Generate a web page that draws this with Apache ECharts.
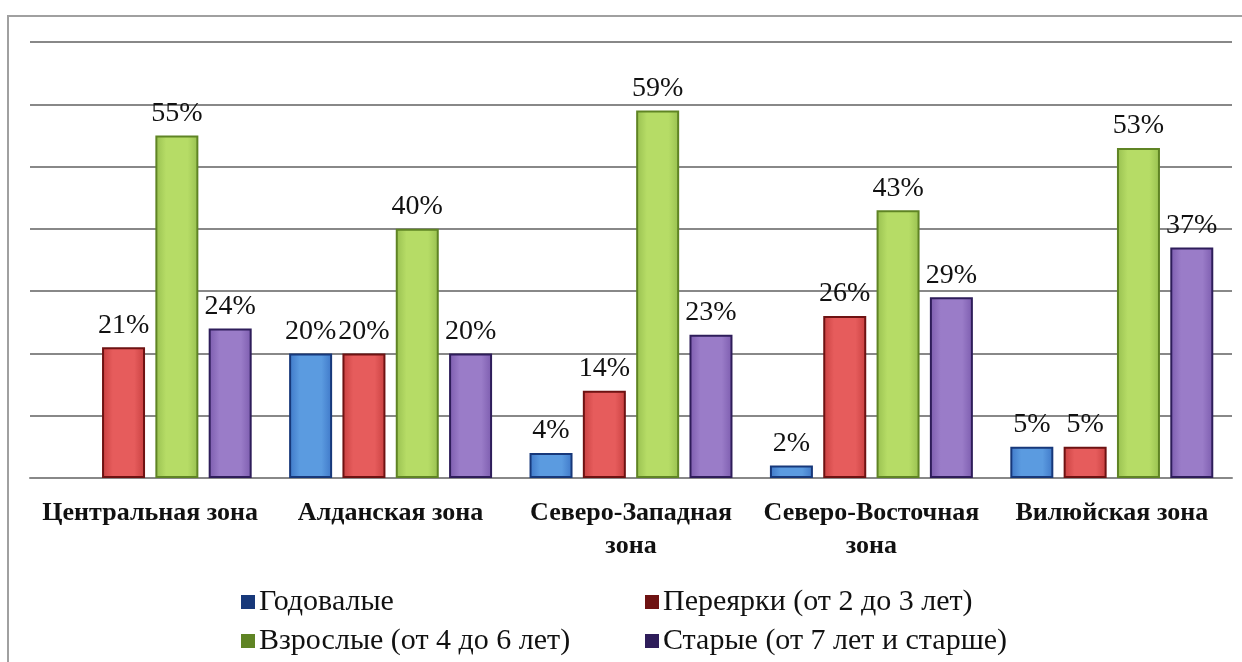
<!DOCTYPE html>
<html>
<head>
<meta charset="utf-8">
<script src="https://cdn.jsdelivr.net/npm/echarts@6/dist/echarts.min.js"></script>
<style>
html, body { margin: 0; padding: 0; background: #fff; }
#chart { width: 1242px; height: 662px; }
</style>
</head>
<body>
<div id="chart"></div>
<script>
// данные
var zones = ['Центральная зона', 'Алданская зона', 'Северо-Западная\nзона', 'Северо-Восточная\nзона', 'Вилюйская зона'];
var seriesNames = ['Годовалые', 'Переярки (от 2 до 3 лет)', 'Взрослые (от 4 до 6 лет)', 'Старые (от 7 лет и старше)'];
var yearlings = [null, 20, 4, 2, 5];
var twoYear = [21, 20, 14, 26, 5];
var adults = [55, 40, 59, 43, 53];
var old = [24, 20, 23, 29, 37];

var values = [yearlings, twoYear, adults, old];
// цвета: край, середина, обводка
var colors = [
    ['#3f78c8', '#5b9be0', '#17387a'],
    ['#c84040', '#e65c5c', '#6e1212'],
    ['#98c050', '#b6dc66', '#5f8424'],
    ['#7c5cae', '#9a7cc8', '#2e1d5a']
];
var legendPos = [[236, 582], [640, 582], [236, 621], [640, 621]];
var serif = '"Liberation Serif", "DejaVu Serif", serif';

var chart = echarts.init(document.getElementById('chart'));

var series = values.map(function (v, i) {
    return {
        name: seriesNames[i],
        type: 'bar',
        data: v,
        barWidth: 43,
        barGap: '24%',
        itemStyle: {
            color: new echarts.graphic.LinearGradient(0, 0, 1, 0, [
                { offset: 0, color: colors[i][0] },
                { offset: 0.25, color: colors[i][1] },
                { offset: 0.75, color: colors[i][1] },
                { offset: 1, color: colors[i][0] }
            ]),
            borderColor: colors[i][2],
            borderWidth: 2
        },
        label: {
            show: true,
            position: 'top',
            distance: 8,
            formatter: '{c}%',
            color: '#111',
            fontFamily: serif,
            fontSize: 28
        }
    };
});

var legends = seriesNames.map(function (n, i) {
    return {
        data: [n],
        left: legendPos[i][0],
        top: legendPos[i][1],
        itemWidth: 12,
        itemHeight: 12,
        itemGap: 6,
        icon: 'rect',
        itemStyle: { color: colors[i][2] },
        textStyle: { fontFamily: serif, fontSize: 30, color: '#111' }
    };
});

chart.setOption({
    animation: false,
    graphic: [{
        type: 'polyline',
        shape: { points: [[8, 662], [8, 16], [1242, 16]] },
        style: { stroke: '#a0a0a0', lineWidth: 2, fill: null }
    }],
    legend: legends,
    grid: { left: 30, right: 10, top: 42, bottom: 184 },
    xAxis: {
        type: 'category',
        data: zones,
        axisLine: { lineStyle: { color: '#888', width: 2 } },
        axisTick: { show: false },
        axisLabel: {
            color: '#111',
            fontFamily: serif,
            fontWeight: 'bold',
            fontSize: 26,
            margin: 19,
            lineHeight: 33,
            interval: 0
        }
    },
    yAxis: {
        type: 'value',
        min: 0,
        max: 70,
        interval: 10,
        axisLabel: { show: false },
        axisLine: { show: false },
        axisTick: { show: false },
        splitLine: { lineStyle: { color: '#888', width: 2 } }
    },
    series: series
});
</script>
</body>
</html>
